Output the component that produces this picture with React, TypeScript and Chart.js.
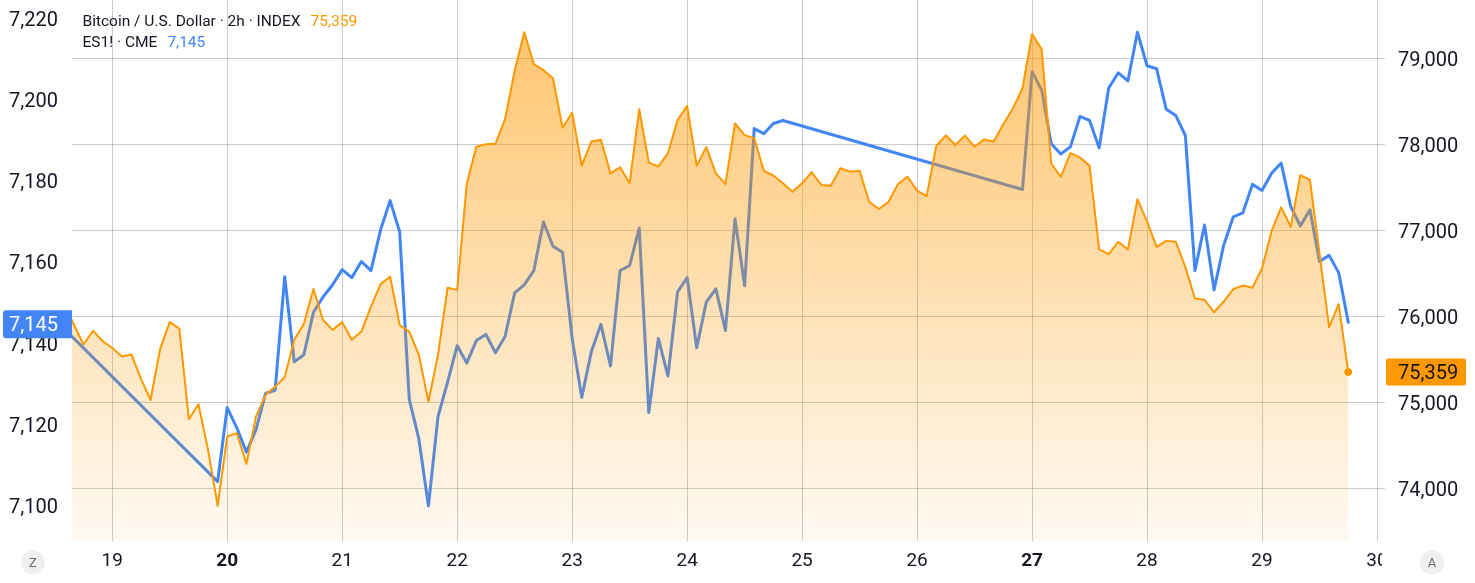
import React, { useEffect, useRef } from "react";
import { Chart, registerables } from "chart.js";

Chart.register(...registerables);

// ---------- data ----------
const STEP_DAYS = 2 / 24; // 2-hour bars, x values are day-of-month
const BTC_START_DAY = 18 + 14 / 24; // first bar (just left of the visible range)

const btcPart1 = [
  76160, 75910, 75680, 75840, 75720, 75640, 75540, 75565, 75280, 75035,
  75630, 75940, 75865, 74810, 74985, 74455, 73805, 74610, 74650, 74290,
  74840, 75095, 75190, 75300, 75735, 75920, 76325, 75965, 75850, 75940,
  75735, 75830, 76120, 76380, 76470, 75905, 75830, 75560, 75015, 75560,
  76340, 76315,
];
const btcPart2 = [
  77545, 77980, 78010, 78015, 78300, 78860, 79310, 78940, 78870, 78775,
  78200, 78375, 77760, 78040, 78060, 77670, 77740, 77555, 78415, 77795,
  77750, 77905, 78290, 78455, 77760, 77975, 77670, 77545, 78250, 78115,
  78080, 77700, 77645, 77555, 77455, 77555, 77685, 77535, 77525, 77730,
  77690, 77700, 77340, 77255, 77335, 77545, 77630, 77470, 77405, 77990,
  78110, 78000, 78110, 77980, 78065, 78040, 78240, 78425, 78660,
];
const btcPart3 = [
  79290, 79115, 77785, 77630, 77905, 77855, 77760, 76785, 76730, 76875,
  76785, 77370, 77110, 76815, 76885, 76875, 76580, 76215, 76200, 76055,
  76180, 76325, 76365, 76340, 76565, 77000, 77275, 77050, 77650, 77595,
  76740, 75880, 76150, 75359,
];

const ES_PREV_CLOSE_DAY = 17 + 20 / 24;
const esPrevClose = [7164.5];
const ES_WEEK1_START = 19 + 22 / 24;
const esWeek1 = [
  7105.75, 7124, 7119, 7113, 7118.5, 7127.5, 7128.25, 7156.25, 7135.25, 7137,
  7147.5, 7151.25, 7154.25, 7158, 7156, 7160, 7157.75, 7167.75, 7175, 7167.25,
  7126, 7116.25, 7099.75, 7121.75, 7130.25, 7139.25, 7135, 7140.5, 7142, 7137.5,
  7141.5, 7152.25, 7154.25, 7157.75, 7169.75, 7163.75, 7162.25, 7141, 7126.5, 7137.75,
  7144.5, 7134.25, 7157.75, 7159, 7168.25, 7122.75, 7141, 7131.75, 7152.5, 7156,
  7138.75, 7150, 7153.25, 7143, 7170.5, 7154, 7192.75, 7191.5, 7194, 7194.75,
];
const ES_WEEK2_START = 26 + 22 / 24;
const esWeek2 = [
  7177.75, 7206.75, 7202.25, 7189, 7186.5, 7188.25, 7195.75, 7194.75, 7188, 7202.75,
  7206.5, 7204.5, 7216.5, 7208.25, 7207.5, 7197.5, 7196, 7191, 7157.75, 7169,
  7153, 7164, 7171, 7172, 7179, 7177.5, 7181.75, 7184.25, 7173.5, 7168.75,
  7172.75, 7160, 7161.5, 7157.25, 7145,
];

const dayTicks = [19, 20, 21, 22, 23, 24, 25, 26, 27, 28, 29, 30];
const boldDays = [20, 27];
const esTicks = [7100, 7120, 7140, 7160, 7180, 7200, 7220];
const btcTicks = [74000, 75000, 76000, 77000, 78000, 79000];

const X_MIN = 18.65;
const X_MAX = 30;
const ES_MIN = 7091.1;
const ES_MAX = 7224.45;
const BTC_MIN = 73395;
const BTC_MAX = 79686;

const BTC_TITLE = "Bitcoin / U.S. Dollar · 2h · INDEX";
const ES_TITLE = "ES1! · CME";

// ---------- styles ----------
const ORANGE = "#FF9800";
const BLUE = "#4286F5";
const TEXT = "#131722";
const GRID = "rgba(0,0,0,0.2)";
const FONT = "Roboto, 'DejaVu Sans', sans-serif";

const fmt = (v: number) => v.toLocaleString("en-US");

export default function App() {
  const ref = useRef<HTMLCanvasElement>(null);

  useEffect(() => {
    const canvas = ref.current;
    if (!canvas) return;

    const btcValues = [...btcPart1, ...btcPart2, ...btcPart3];
    const btcData = btcValues.map((v, i) => ({ x: BTC_START_DAY + i * STEP_DAYS, y: v }));
    const seg = (start: number, vals: number[]) =>
      vals.map((v, i) => ({ x: start + i * STEP_DAYS, y: v }));
    const esData = [
      ...seg(ES_PREV_CLOSE_DAY, esPrevClose),
      ...seg(ES_WEEK1_START, esWeek1),
      ...seg(ES_WEEK2_START, esWeek2),
    ];
    const lastBtc = btcValues[btcValues.length - 1];
    const lastEs = esWeek2[esWeek2.length - 1];
    const btcMax = Math.max(...btcValues);

    const overlay = {
      id: "overlay",
      afterDraw(chart: any) {
        const { ctx, chartArea, scales } = chart;
        ctx.save();
        // x labels (clipped at the price-scale edge)
        ctx.save();
        ctx.beginPath();
        ctx.rect(0, chartArea.bottom, 1382, chart.height - chartArea.bottom);
        ctx.clip();
        ctx.fillStyle = TEXT;
        ctx.textAlign = "center";
        ctx.textBaseline = "middle";
        for (const d of dayTicks) {
          ctx.font = `${boldDays.includes(d) ? "bold" : "normal"} 19px ${FONT}`;
          ctx.fillText(String(d), scales.x.getPixelForValue(d), 561);
        }
        ctx.restore();

        // legend
        ctx.textAlign = "left";
        ctx.textBaseline = "alphabetic";
        ctx.font = `15.5px ${FONT}`;
        ctx.fillStyle = TEXT;
        ctx.fillText(BTC_TITLE, 82.5, 25.5);
        let w = ctx.measureText(BTC_TITLE).width;
        ctx.fillStyle = ORANGE;
        ctx.fillText(fmt(lastBtc), 82.5 + w + 10, 25.5);
        ctx.fillStyle = TEXT;
        ctx.fillText(ES_TITLE, 82.5, 46.5);
        w = ctx.measureText(ES_TITLE).width;
        ctx.fillStyle = BLUE;
        ctx.fillText(fmt(lastEs), 82.5 + w + 10, 46.5);

        // left price label
        const yEs = scales.y.getPixelForValue(lastEs) + 2;
        ctx.fillStyle = BLUE;
        ctx.beginPath();
        if (ctx.roundRect) ctx.roundRect(3, yEs - 14, 69, 28, [3, 0, 0, 3]);
        else ctx.rect(3, yEs - 14, 69, 28);
        ctx.fill();
        ctx.fillStyle = "#ffffff";
        ctx.font = `20px ${FONT}`;
        ctx.textAlign = "right";
        ctx.textBaseline = "middle";
        ctx.fillText(fmt(lastEs), 58, yEs + 2);

        // right price label
        const yBtc = scales.y2.getPixelForValue(lastBtc);
        ctx.fillStyle = ORANGE;
        ctx.beginPath();
        if (ctx.roundRect) ctx.roundRect(1386, yBtc - 13.5, 80, 27, 2);
        else ctx.rect(1386, yBtc - 13.5, 80, 27);
        ctx.fill();
        ctx.fillStyle = TEXT;
        ctx.textAlign = "left";
        ctx.fillText(fmt(lastBtc), 1398, yBtc + 2);

        // Z / A buttons
        const btn = (cx: number, cy: number, t: string) => {
          ctx.fillStyle = "#f0f0f0";
          ctx.beginPath();
          ctx.arc(cx, cy, 12, 0, Math.PI * 2);
          ctx.fill();
          ctx.fillStyle = "#6a6d78";
          ctx.font = `13px ${FONT}`;
          ctx.textAlign = "center";
          ctx.textBaseline = "middle";
          ctx.fillText(t, cx, cy + 1);
        };
        btn(33, 562.5, "Z");
        btn(1432, 562.5, "A");
        ctx.restore();
      },
    };

    const chart = new Chart(canvas, {
      type: "line",
      data: {
        datasets: [
          {
            label: BTC_TITLE,
            data: btcData,
            xAxisID: "x",
            yAxisID: "y2",
            borderColor: ORANGE,
            borderWidth: 2,
            borderJoinStyle: "round",
            borderCapStyle: "round",
            tension: 0,
            fill: "start",
            backgroundColor: (c: any) => {
              const ch = c.chart;
              const area = ch.chartArea;
              if (!area || !ch.scales.y2) return "rgba(255,152,0,0.3)";
              const top = ch.scales.y2.getPixelForValue(btcMax);
              const g = ch.ctx.createLinearGradient(0, top, 0, area.bottom);
              g.addColorStop(0, "rgba(255,152,0,0.56)");
              g.addColorStop(1, "rgba(255,152,0,0.05)");
              return g;
            },
            pointRadius: (c: any) => (c.dataIndex === btcData.length - 1 ? 3.5 : 0),
            pointBackgroundColor: ORANGE,
            pointBorderColor: ORANGE,
            pointBorderWidth: 1,
            order: 0,
          },
          {
            label: ES_TITLE,
            data: esData,
            xAxisID: "x",
            yAxisID: "y",
            borderColor: BLUE,
            borderWidth: 3,
            borderJoinStyle: "round",
            borderCapStyle: "round",
            tension: 0,
            fill: false,
            pointRadius: 0,
            order: 1,
          },
        ],
      },
      options: {
        responsive: false,
        devicePixelRatio: 1,
        animation: false,
        events: [],
        layout: { padding: 0, autoPadding: false },
        plugins: {
          legend: { display: false },
          tooltip: { enabled: false },
        },
        scales: {
          x: {
            type: "linear",
            position: "bottom",
            min: X_MIN,
            max: X_MAX,
            afterBuildTicks: (s: any) => {
              s.ticks = dayTicks.map((v) => ({ value: v }));
            },
            afterFit: (s: any) => {
              s.height = 42;
              s.paddingLeft = 0;
              s.paddingRight = 0;
            },
            grid: { color: GRID, lineWidth: 1, drawTicks: false, tickLength: 0 },
            border: { display: false },
            ticks: { display: false },
          },
          y: {
            type: "linear",
            position: "left",
            min: ES_MIN,
            max: ES_MAX,
            afterBuildTicks: (s: any) => {
              s.ticks = esTicks.map((v) => ({ value: v }));
            },
            afterFit: (s: any) => {
              s.width = 72;
              s.paddingTop = 0;
              s.paddingBottom = 0;
            },
            grid: { display: false, drawTicks: false },
            border: { display: false },
            ticks: {
              padding: 14,
              labelOffset: 3,
              color: TEXT,
              font: { family: FONT, size: 20 },
              callback: (v: any) => fmt(Number(v)),
            },
          },
          y2: {
            type: "linear",
            position: "right",
            min: BTC_MIN,
            max: BTC_MAX,
            afterBuildTicks: (s: any) => {
              s.ticks = btcTicks.map((v) => ({ value: v }));
            },
            afterFit: (s: any) => {
              s.width = 98;
              s.paddingTop = 0;
              s.paddingBottom = 0;
            },
            grid: { color: GRID, lineWidth: 1, drawTicks: true, tickLength: 8, drawOnChartArea: true },
            border: { display: false },
            ticks: {
              padding: 13,
              labelOffset: 2,
              color: TEXT,
              font: { family: FONT, size: 20 },
              callback: (v: any) => fmt(Number(v)),
            },
          },
        },
      } as any,
      plugins: [overlay],
    });

    return () => chart.destroy();
  }, []);

  return (
    <div style={{ position: "fixed", left: 0, top: 0, width: 1475, height: 583, background: "#ffffff" }}>
      <canvas ref={ref} width={1475} height={583} style={{ display: "block", width: 1475, height: 583 }} />
    </div>
  );
}
